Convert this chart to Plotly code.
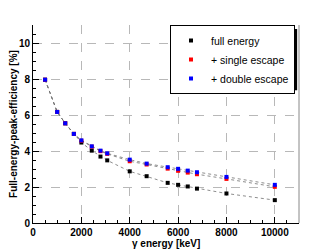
import plotly.graph_objects as go

energy = [500, 1000, 1332, 1690, 2000, 2430, 2790, 3070, 4000, 4700, 5570, 6000, 6400, 6780, 8000, 10000]
full_energy = [7.96, 6.17, 5.54, 4.95, 4.47, 4.02, 3.69, 3.48, 2.87, 2.60, 2.23, 2.12, 2.03, 1.91, 1.64, 1.27]
single_escape = [7.96, 6.17, 5.54, 4.95, 4.57, 4.24, 3.99, 3.84, 3.43, 3.25, 3.02, 2.90, 2.80, 2.71, 2.45, 2.01]
double_escape = [7.96, 6.17, 5.54, 4.95, 4.59, 4.26, 4.02, 3.87, 3.52, 3.30, 3.10, 3.01, 2.91, 2.82, 2.56, 2.12]

x_ticks = [0, 2000, 4000, 6000, 8000, 10000]
y_ticks = [0, 2, 4, 6, 8, 10]

FONT = "Liberation Sans"

fig = go.Figure()
series = [
    ("full energy", full_energy, "black"),
    ("+ single escape", single_escape, "red"),
    ("+ double escape", double_escape, "blue"),
]
for name, vals, col in series:
    fig.add_trace(go.Scatter(
        x=energy, y=vals, mode="lines", showlegend=False, hoverinfo="skip",
        line=dict(color="#707070", width=0.8, dash="dot"),
    ))
for name, vals, col in series:
    fig.add_trace(go.Scatter(
        x=energy, y=vals, name=name, mode="markers",
        marker=dict(symbol="square", size=4, color=col, line=dict(width=0)),
    ))

axis_common = dict(
    showline=True, linecolor="black", linewidth=1,
    ticks="inside", ticklen=6, tickcolor="black",
    showgrid=True, gridcolor="#b8b8b8", griddash="dash", gridwidth=1,
    zeroline=False, automargin=False,
    tickfont=dict(family=FONT, size=10, color="black", weight="bold"),
)

fig.update_xaxes(
    range=[0, 11000], tickvals=x_ticks, ticktext=[str(v) for v in x_ticks],
    minor=dict(ticks="inside", dtick=500, ticklen=3, tickcolor="black", showgrid=False),
    **axis_common,
)
fig.update_yaxes(
    range=[0, 11], tickvals=y_ticks, ticktext=[str(v) for v in y_ticks],
    minor=dict(ticks="inside", dtick=0.5, ticklen=3, tickcolor="black", showgrid=False),
    title=dict(text="Full-energy-peak-efficiency [%]", font=dict(family=FONT, size=10, color="black", weight="bold"), standoff=4),
    **axis_common,
)

fig.add_annotation(
    text="γ energy [keV]", xref="paper", yref="paper", x=0.5, y=0,
    xanchor="center", yanchor="top", yshift=-13, showarrow=False,
    font=dict(family=FONT, size=10, color="black", weight="bold"),
)

fig.add_shape(type="line", xref="paper", yref="paper", x0=1, x1=1, y0=0, y1=1,
              line=dict(color="#888888", width=1))
# legend shadow (partly hidden behind the legend box)
fig.add_shape(type="rect", xref="paper", yref="paper",
              x0=0.62, x1=0.993, y0=0.67, y1=0.98,
              fillcolor="black", line=dict(width=0), layer="above")

fig.update_layout(
    width=324, height=241,
    margin=dict(l=25, r=33, t=17, b=26),
    paper_bgcolor="white", plot_bgcolor="white",
    showlegend=True,
    legend=dict(
        x=0.985, y=1.0, xanchor="right", yanchor="top",
        bgcolor="white", bordercolor="black", borderwidth=1,
        font=dict(family=FONT, size=10.5, color="black"),
        itemwidth=30, tracegroupgap=0,
    ),
    font=dict(family=FONT, size=10, color="black"),
)

fig.write_html("out.html")
